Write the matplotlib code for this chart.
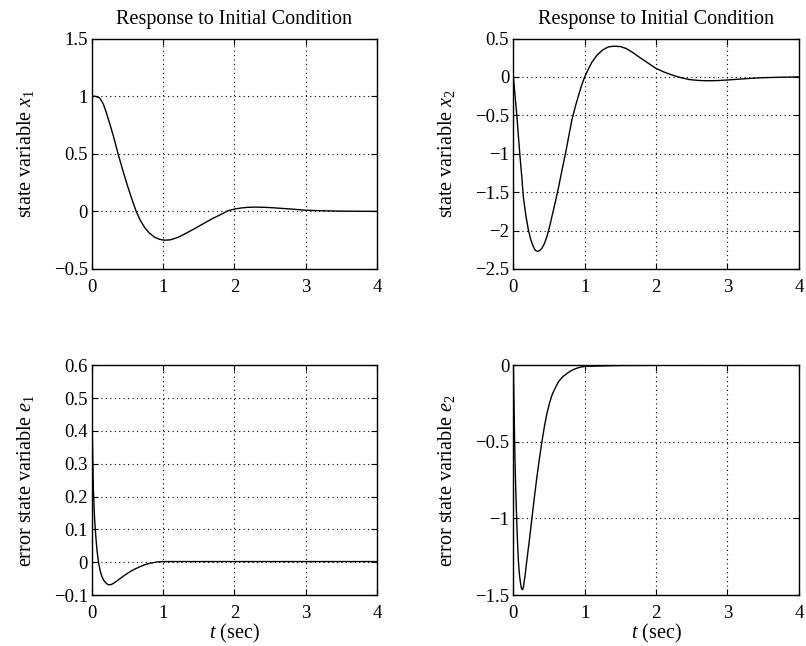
import matplotlib
matplotlib.use('Agg')
import matplotlib.pyplot as plt

plt.rcParams['font.family'] = ['Liberation Serif', 'DejaVu Serif']
plt.rcParams['mathtext.fontset'] = 'custom'
plt.rcParams['mathtext.rm'] = 'Liberation Serif'
plt.rcParams['mathtext.it'] = 'Liberation Serif:italic'

# values
t_x1 = [0, 0.05, 0.108, 0.16, 0.2, 0.25, 0.295, 0.33, 0.366, 0.41, 0.46, 0.5, 0.55, 0.62,
        0.68, 0.74, 0.8, 0.88, 0.95, 1.02, 1.1, 1.21, 1.32, 1.44, 1.56, 1.68, 1.8, 1.91,
        2.0, 2.1, 2.19, 2.3, 2.43, 2.55, 2.66, 2.8, 3.0, 3.25, 3.5, 3.75, 4.0]
x1 = [1.0, 0.998, 0.985, 0.93, 0.86, 0.76, 0.665, 0.585, 0.5, 0.405, 0.3, 0.22, 0.125, 0.0,
      -0.08, -0.14, -0.185, -0.225, -0.243, -0.25, -0.247, -0.225, -0.19, -0.15, -0.108, -0.066, -0.03, 0.006,
      0.02, 0.03, 0.035, 0.037, 0.035, 0.031, 0.026, 0.02, 0.01, 0.005, 0.002, 0.001, 0.0]

t_x2 = [0, 0.02, 0.047, 0.07, 0.094, 0.12, 0.14, 0.175, 0.21, 0.245, 0.28, 0.31, 0.34, 0.37,
        0.40, 0.435, 0.47, 0.505, 0.54, 0.59, 0.635, 0.68, 0.73, 0.775, 0.82, 0.87, 0.92, 0.96,
        1.0, 1.05, 1.1, 1.17, 1.25, 1.33, 1.41, 1.5, 1.58, 1.67, 1.76, 1.88, 2.0, 2.12, 2.24,
        2.35, 2.47, 2.6, 2.7, 2.85, 3.0, 3.15, 3.3, 3.5, 3.75, 4.0]
x2 = [0.0, -0.2, -0.48, -0.76, -1.04, -1.32, -1.56, -1.8, -1.99, -2.12, -2.21, -2.26, -2.27, -2.26,
      -2.23, -2.17, -2.08, -1.96, -1.82, -1.62, -1.43, -1.22, -1.0, -0.78, -0.56, -0.38, -0.22, -0.1,
      0.0, 0.1, 0.19, 0.28, 0.35, 0.39, 0.40, 0.395, 0.37, 0.32, 0.26, 0.185, 0.11, 0.06, 0.02,
      -0.01, -0.035, -0.046, -0.05, -0.048, -0.04, -0.03, -0.02, -0.01, -0.004, 0.0]

t_e1 = [0, 0.01, 0.02, 0.035, 0.047, 0.06, 0.07, 0.082, 0.094, 0.115, 0.14, 0.165, 0.19, 0.21,
        0.235, 0.27, 0.305, 0.35, 0.4, 0.47, 0.54, 0.61, 0.68, 0.75, 0.82, 0.92, 1.0, 1.5, 2.0,
        3.0, 4.0]
e1 = [0.45, 0.33, 0.22, 0.14, 0.098, 0.063, 0.038, 0.016, -0.003, -0.026, -0.044, -0.055, -0.062, -0.066,
      -0.069, -0.068, -0.064, -0.057, -0.049, -0.038, -0.028, -0.02, -0.013, -0.007, -0.003, 0.001, 0.002, 0.002, 0.002,
      0.002, 0.002]

t_e2 = [0, 0.012, 0.023, 0.035, 0.047, 0.058, 0.07, 0.082, 0.094, 0.106, 0.117, 0.128, 0.14, 0.165,
        0.19, 0.225, 0.26, 0.295, 0.33, 0.365, 0.4, 0.435, 0.47, 0.505, 0.54, 0.585, 0.63, 0.69,
        0.75, 0.81, 0.87, 0.93, 1.0, 1.5, 2.0, 3.0, 4.0]
e2 = [0.0, -0.33, -0.62, -0.83, -1.01, -1.15, -1.27, -1.35, -1.40, -1.44, -1.46, -1.465, -1.45, -1.37,
      -1.27, -1.14, -1.0, -0.86, -0.73, -0.61, -0.5, -0.40, -0.315, -0.25, -0.196, -0.15, -0.109, -0.075,
      -0.054, -0.035, -0.022, -0.013, -0.007, -0.001, 0.0, 0.0, 0.0]

panels = [
    (t_x1, x1, [0.1141, 0.5836, 0.3536, 0.3568], (-0.5, 1.5), [-0.5, 0, 0.5, 1, 1.5],
     ['\u22120.5', '0', '0.5', '1', '1.5'], 'state variable $x_1$', True),
    (t_x2, x2, [0.6369, 0.5836, 0.3542, 0.3568], (-2.5, 0.5), [-2.5, -2, -1.5, -1, -0.5, 0, 0.5],
     ['\u22122.5', '\u22122', '\u22121.5', '\u22121', '\u22120.5', '0', '0.5'], 'state variable $x_2$', True),
    (t_e1, e1, [0.1141, 0.0789, 0.3536, 0.3556], (-0.1, 0.6), [-0.1, 0, 0.1, 0.2, 0.3, 0.4, 0.5, 0.6],
     ['\u22120.1', '0', '0.1', '0.2', '0.3', '0.4', '0.5', '0.6'], 'error state variable $e_1$', False),
    (t_e2, e2, [0.6369, 0.0789, 0.3542, 0.3556], (-1.5, 0), [-1.5, -1, -0.5, 0],
     ['\u22121.5', '\u22121', '\u22120.5', '0'], 'error state variable $e_2$', False),
]

fig = plt.figure(figsize=(8.06, 6.46), dpi=100)
for t, y, pos, ylim, yt, ytl, ylab, top in panels:
    ax = fig.add_axes(pos)
    ax.plot(t, y, color='black', lw=1.0)
    ax.set_xlim(0, 4)
    ax.set_ylim(*ylim)
    ax.set_xticks([0, 1, 2, 3, 4])
    ax.set_yticks(yt)
    ax.set_yticklabels(ytl)
    ax.grid(True, color='black', linestyle=(0, (1, 3)), lw=0.8)
    ax.tick_params(direction='in', top=True, right=True, labelsize=13.5, length=4)
    ax.tick_params(axis='x', pad=7)
    ax.tick_params(axis='y', pad=3)
    for s in ax.spines.values():
        s.set_linewidth(1.0)
    ax.set_ylabel(ylab, fontsize=14.5, labelpad=13)
    if top:
        ax.set_title('Response to Initial Condition', fontsize=14.5, pad=10.5)
    else:
        ax.set_xlabel('$t$ (sec)', fontsize=14.5, labelpad=0.5)

fig.savefig('out.png', dpi=100)
